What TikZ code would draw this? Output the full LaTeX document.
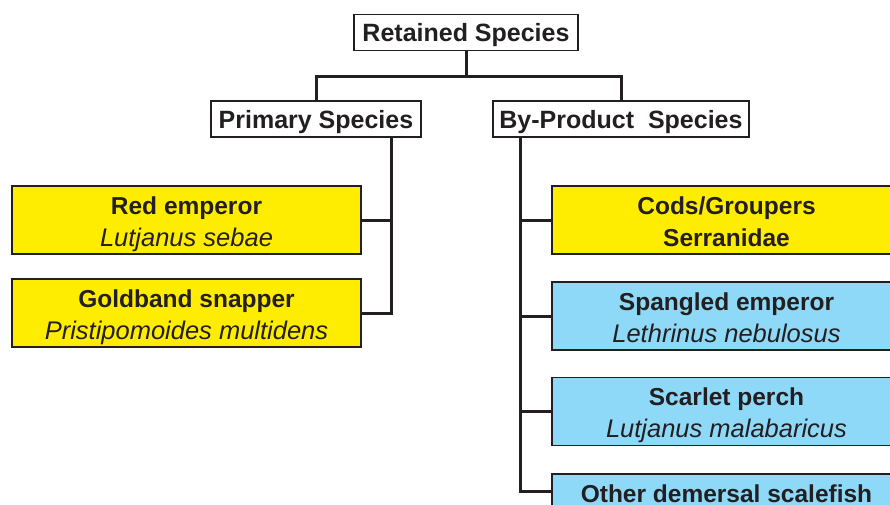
\documentclass[tikz,border=0pt]{standalone}
\usepackage{fontspec}
\setmainfont{Liberation Sans}
\usetikzlibrary{calc}

\definecolor{boxyellow}{HTML}{FFED00}
\definecolor{boxblue}{HTML}{8ED8F8}
\definecolor{inkgrey}{HTML}{231F20}

\tikzset{
	headbox/.style={draw=inkgrey, line width=1.5pt, fill=white, text=inkgrey, minimum height=36pt, inner sep=0pt, text height=18pt, text depth=0pt, font=\fontsize{25}{30}\selectfont\bfseries},
	speciesbox/.style={draw=inkgrey, line width=1.5pt, text=inkgrey, minimum width=349pt, minimum height=68pt, inner sep=0pt, align=center, text height=60pt, text depth=8pt, font=\fontsize{24.5}{32}\selectfont},
	yellowbox/.style={speciesbox, fill=boxyellow},
	bluebox/.style={speciesbox, fill=boxblue},
	link/.style={draw=inkgrey, line width=3pt}
}
\newcommand{\common}[1]{{\bfseries #1}}
\newcommand{\latin}[1]{{\fontsize{25.5}{32}\selectfont\itshape #1}}

\begin{document}
\begin{tikzpicture}[x=1pt,y=-1pt]
		%%%%% START %%%%%
		\useasboundingbox (0,0) rectangle (890,504);
		\clip (0,0) rectangle (890,504);
		
		\node[headbox, minimum width=224pt] (ret) at (466,32.5) {Retained Species};
		\node[headbox, minimum width=210pt] (prim) at (316,119) {Primary Species};
		\node[headbox, minimum width=256pt] (byp) at (621,119) {By-Product\ \ Species};
		
		\node[yellowbox] (red) at (186.5,220) {\common{Red emperor}\\\latin{Lutjanus sebae}};
		\node[yellowbox] (gold) at (186.5,313) {\common{Goldband snapper}\\\latin{Pristipomoides multidens}};
		
		\node[yellowbox] (cods) at (726.5,220) {\common{Cods/Groupers}\\\common{Serranidae}};
		\node[bluebox] (spang) at (726.5,316) {\common{Spangled emperor}\\\latin{Lethrinus nebulosus}};
		\node[bluebox] (scar) at (726.5,411.5) {\common{Scarlet perch}\\\latin{Lutjanus malabaricus}};
		\node[bluebox] (oth) at (726.5,508) {\common{Other demersal scalefish}\\\phantom{X}};
		
		\draw[link] (ret.south) -- ++(0,25) -| (prim.north);
		\draw[link] (ret.south) -- ++(0,25) -| (byp.north);
		
		\coordinate (ptrunk) at ($(prim.south east)+(-30,0)$);
		\draw[link] (ptrunk) |- (red.east);
		\draw[link] (ptrunk) |- (gold.east);
		
		\coordinate (btrunk) at ($(byp.south west)+(28,0)$);
		\draw[link] (btrunk) |- (cods.west);
		\draw[link] (btrunk) |- (spang.west);
		\draw[link] (btrunk) |- (scar.west);
		\draw[link] (btrunk) |- ($(oth.north west)+(0,18)$);
		
		%%%%% END %%%%%
\end{tikzpicture}
\end{document}
